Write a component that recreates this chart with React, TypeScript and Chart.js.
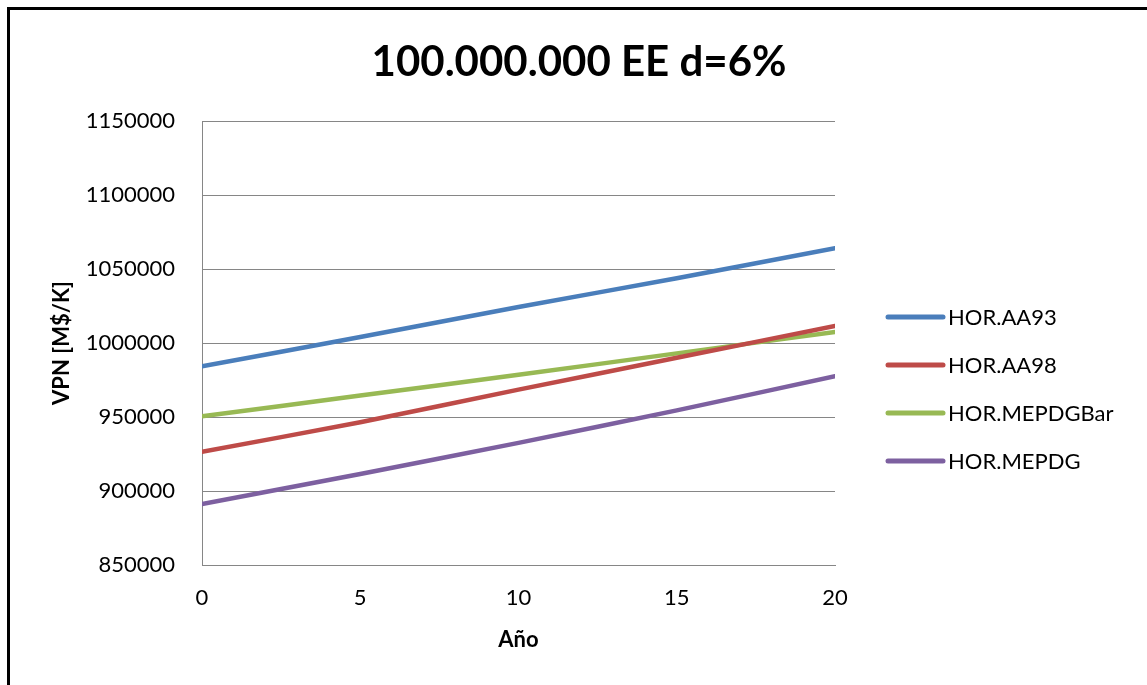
import React, { useEffect, useRef } from "react";
import { Chart, registerables } from "chart.js";

Chart.register(...registerables);

const chartTitle = "100.000.000 EE d=6%";
const xTitle = "Año";
const yTitle = "VPN [M$/K]";
const years = [0, 5, 10, 15, 20];
const seriesNames = ["HOR.AA93", "HOR.AA98", "HOR.MEPDGBar", "HOR.MEPDG"];
const aa93 = [984300, 1004000, 1024300, 1043800, 1064000];
const aa98 = [926500, 946500, 968500, 990000, 1011500];
const mepdgBar = [950500, 964500, 978500, 993000, 1007500];
const mepdg = [891200, 911500, 932500, 954500, 977500];
const seriesColors = ["#4A7EBB", "#BE4B48", "#98B954", "#7D60A0"];
const yMin = 850000;
const yMax = 1150000;
const yStep = 50000;
const xMin = 0;
const xMax = 20;
const xStep = 5;

const FONT = "Lato, 'Open Sans', sans-serif";

const legendPlugin = {
  id: "customLegend",
  afterDraw(chart: any) {
    const ctx = chart.ctx;
    const area = chart.chartArea;
    ctx.save();
    chart.data.datasets.forEach((ds: any, i: number) => {
      const y = 317 + 48 * i;
      const x0 = area.right + 53;
      ctx.strokeStyle = ds.borderColor;
      ctx.lineWidth = 5;
      ctx.lineCap = "round";
      ctx.beginPath();
      ctx.moveTo(x0, y);
      ctx.lineTo(x0 + 55, y);
      ctx.stroke();
      ctx.fillStyle = "#000";
      ctx.font = `22px ${FONT}`;
      ctx.textBaseline = "middle";
      ctx.textAlign = "left";
      ctx.fillText(ds.label, x0 + 60, y + 1);
    });
    ctx.restore();
  },
};

export default function App() {
  const ref = useRef<HTMLCanvasElement | null>(null);

  useEffect(() => {
    if (!ref.current) return;
    const all = [aa93, aa98, mepdgBar, mepdg];
    const chart = new Chart(ref.current, {
      type: "line",
      data: {
        datasets: all.map((vals, i) => ({
          label: seriesNames[i],
          data: years.map((x, j) => ({ x, y: vals[j] })),
          borderColor: seriesColors[i],
          backgroundColor: seriesColors[i],
          borderWidth: 4.5,
          borderCapStyle: "round",
          pointRadius: 0,
          tension: 0.3,
          fill: false,
        })),
      },
      options: {
        responsive: false,
        animation: false,
        layout: { padding: { left: 11, right: 0, top: 0, bottom: 0 } },
        plugins: {
          legend: { display: false },
          tooltip: { enabled: false },
          title: {
            display: true,
            text: chartTitle,
            color: "#000",
            font: { family: FONT, size: 42, weight: "bold", lineHeight: 1.2 },
            padding: { top: 37, bottom: 33.6 },
          },
        },
        scales: {
          x: {
            type: "linear",
            min: xMin,
            max: xMax,
            grid: { display: false, drawTicks: false },
            border: { display: true, color: "#868686", width: 1 },
            ticks: {
              stepSize: xStep,
              color: "#000",
              padding: 20,
              font: { family: FONT, size: 22 },
              callback: (v: any) => String(v),
            },
            title: {
              display: true,
              text: xTitle,
              color: "#000",
              font: { family: FONT, size: 22, weight: "bold", lineHeight: 1.2 },
              padding: { top: 0, bottom: 32 },
            },
            afterFit: (s: any) => {
              s.height = 120;
            },
          },
          y: {
            min: yMin,
            max: yMax,
            grid: { display: true, color: "#868686", lineWidth: 1, drawTicks: false },
            border: { display: true, color: "#868686", width: 1 },
            ticks: {
              stepSize: yStep,
              color: "#000",
              padding: 27,
              font: { family: FONT, size: 22 },
              callback: (v: any) => String(v),
            },
            title: {
              display: true,
              text: yTitle,
              color: "#000",
              font: { family: FONT, size: 22, weight: "bold", lineHeight: 1.2 },
              padding: { top: 38, bottom: 0 },
            },
            afterFit: (s: any) => {
              s.width = 191;
            },
          },
          yRight: {
            position: "right",
            display: true,
            grid: { display: false, drawTicks: false },
            border: { display: false },
            ticks: { display: false },
            afterFit: (s: any) => {
              s.width = 312;
            },
          },
        },
      },
      plugins: [legendPlugin],
    } as any);
    return () => chart.destroy();
  }, []);

  return (
    <div
      style={{
        position: "fixed",
        left: 0,
        top: 0,
        width: 1147,
        height: 685,
        overflow: "hidden",
        background: "#fff",
      }}
    >
      <canvas
        ref={ref}
        width={1147}
        height={685}
        style={{ position: "absolute", left: 0, top: 0, width: 1147, height: 685 }}
      />
      <div
        style={{
          position: "absolute",
          left: 7,
          top: 7,
          width: 1300,
          height: 900,
          border: "3px solid #000",
          boxSizing: "border-box",
          pointerEvents: "none",
        }}
      />
    </div>
  );
}
